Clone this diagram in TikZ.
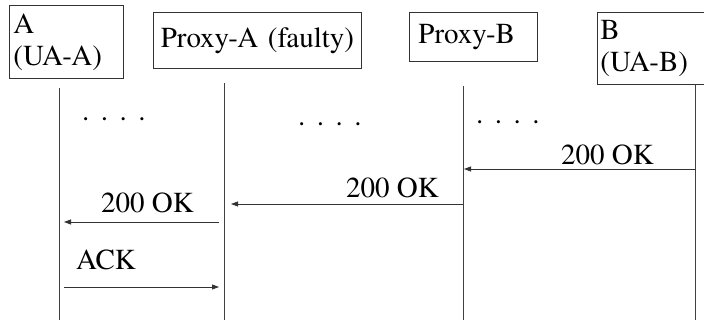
\documentclass[tikz,border=0pt]{standalone}
\usepackage{fontspec}
\setmainfont{texgyretermes-regular.otf}
\usetikzlibrary{arrows.meta}
\begin{document}
\begin{tikzpicture}[x=1pt,y=-1pt,
  every node/.style={font=\rmfamily\fontsize{29}{32}\selectfont},
  ent/.style={draw=black!80, line width=0.9pt, rectangle, anchor=north west, inner ysep=0pt},
  life/.style={draw=black!75, line width=0.9pt},
  msg/.style={draw=black!80, line width=0.8pt, -{Triangle[length=7pt,width=5pt]}},
  lbl/.style={anchor=base west, inner sep=0pt},
  dotrow/.style={anchor=base west, inner sep=0pt}]
\useasboundingbox (0,0) rectangle (704,320);
\fill[white] (0,0) rectangle (704,320);
% entity boxes
\node[ent, minimum width=114pt, minimum height=73pt, text width=106pt, inner xsep=4pt, align=left] (A) at (9,5) {A\\(UA-A)};
\node[ent, minimum width=208pt, minimum height=56pt, text width=200pt, inner xsep=4pt, align=center] (PA) at (153,12) {Proxy-A (faulty)};
\node[ent, minimum width=128pt, minimum height=49pt, text width=110pt, inner xsep=9pt, align=left] (PB) at (409,12) {Proxy-B};
\node[ent, minimum width=112pt, minimum height=72pt, text width=106pt, inner xsep=3pt, align=left] (B) at (597,12) {B\\(UA-B)};
% lifelines
\coordinate (At) at (59,88);   \coordinate (Ab) at (59,320);
\coordinate (PAt) at (224,83); \coordinate (PAb) at (224,320);
\coordinate (PBt) at (463,86); \coordinate (PBb) at (463,320);
\coordinate (Bt) at (695,85);  \coordinate (Bb) at (695,320);
\draw[life] (At) -- (Ab);
\draw[life] (PAt) -- (PAb);
\draw[life] (PBt) -- (PBb);
\draw[life] (Bt) -- (Bb);
% dots
\node[dotrow] (d1) at (82,121) {.\hspace{11.5pt}.\hspace{11.5pt}.\hspace{11.5pt}.};
\node[dotrow] (d2) at (298,126) {.\hspace{11.5pt}.\hspace{11.5pt}.\hspace{11.5pt}.};
\node[dotrow] (d3) at (476,124) {.\hspace{11.5pt}.\hspace{11.5pt}.\hspace{11.5pt}.};
% message endpoints
\coordinate (m1s) at (695,169); \coordinate (m1e) at (464,169);
\coordinate (m2s) at (463,204); \coordinate (m2e) at (231,204);
\coordinate (m3s) at (219,222); \coordinate (m3e) at (64,222);
\coordinate (m4s) at (64,287);  \coordinate (m4e) at (219,287);
\draw[msg] (m1s) -- (m1e);
\draw[msg] (m2s) -- (m2e);
\draw[msg] (m3s) -- (m3e);
\draw[msg] (m4s) -- (m4e);
% labels
\node[lbl] (l1) at (561,165) {200 OK};
\node[lbl] (l2) at (346,198) {200 OK};
\node[lbl] (l3) at (101,213) {200 OK};
\node[lbl] (l4) at (76,270) {ACK};
\end{tikzpicture}
\end{document}
